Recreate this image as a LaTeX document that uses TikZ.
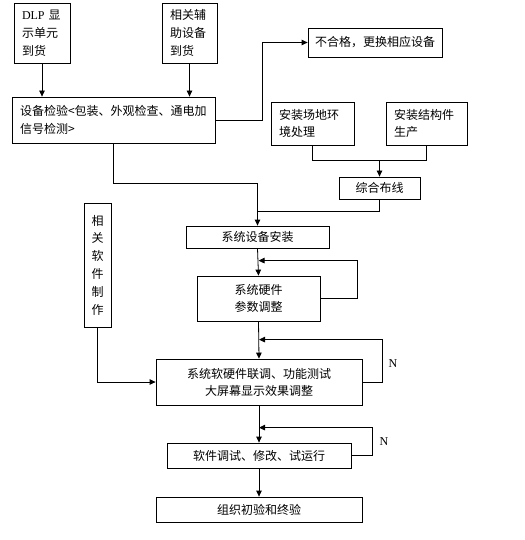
\documentclass[tikz,border=0pt]{standalone}
\usepackage{fontspec}
\usepackage{tikz}
\usetikzlibrary{arrows.meta}
\setmainfont{Liberation Serif}
\newfontfamily\cjk{Noto Sans CJK SC}

\begin{document}
\begin{tikzpicture}[x=1pt,y=-1pt,line width=0.8pt,
	>={Triangle[length=6pt,width=5.5pt]},
	box/.style={draw,inner sep=0pt,align=center,font=\cjk\fontsize{12}{17}\selectfont},
	lbox/.style={box,inner xsep=8pt,align=left}]
	\useasboundingbox (0,0) rectangle (524,540);

	%BOXES, TOP
	\node[lbox,text width=40,minimum height=60,font=\cjk\fontsize{12}{18}\selectfont] (dlp) at (42,33) {{\rmfamily DLP} 显\\示单元\\到货};
	\node[lbox,text width=39,minimum height=60,font=\cjk\fontsize{12}{18}\selectfont] (aux) at (189.5,33) {相关辅\\助设备\\到货};
	\node[lbox,text width=187,minimum height=46,font=\cjk\fontsize{12}{18}\selectfont] (check) at (113.5,120) {设备检验<包装、外观检查、通电加\\信号检测>};
	\node[box,minimum width=134,minimum height=29] (reject) at (375,42.5) {不合格，更换相应设备};
	\node[lbox,text width=67,minimum height=43] (site) at (312.5,123.5) {安装场地环\\境处理};
	\node[lbox,text width=65,minimum height=43] (struct) at (426.5,123.5) {安装结构件\\生产};
	\node[box,minimum width=81,minimum height=22] (wiring) at (379.5,188) {综合布线};

	%BOXES, MAIN LINE
	\node[box,minimum width=143,minimum height=22] (install) at (257.5,237) {系统设备安装};
	\node[box,minimum width=27,minimum height=124,font=\cjk\fontsize{12}{17.8}\selectfont] (soft) at (97.5,265) {相\\关\\软\\件\\制\\作};
	\node[box,minimum width=123,minimum height=45] (hwadj) at (258.5,298.5) {系统硬件\\参数调整};
	\node[box,minimum width=206,minimum height=46] (joint) at (259,382) {系统软硬件联调、功能测试\\大屏幕显示效果调整};
	\node[box,minimum width=184,minimum height=25] (debug) at (259,455.5) {软件调试、修改、试运行};
	\node[box,minimum width=206,minimum height=25] (accept) at (259,509.5) {组织初验和终验};
	\node[font=\fontsize{12}{14}\selectfont] (n1) at (393,364) {N};
	\node[font=\fontsize{12}{14}\selectfont] (n2) at (384,442) {N};

	%CONNECTORS
	\draw[->] (dlp.south) -- (dlp.south |- check.north);
	\draw[->] (aux.south) -- (aux.south |- check.north);
	\draw[->] (check.east) -- ++(47,0) |- (reject.west);
	\draw[->] (check.south) -- ++(0,40) -| (install.north);
	\draw (site.south) -- ++(0,15) coordinate (sj) -| (struct.south);
	\draw[->] (wiring.north |- sj) -- (wiring.north);
	\draw (wiring.south) |- ([yshift=14pt]install.north);
	\draw[->] (install.south) -- (hwadj.north);
	\draw[->] (hwadj.east) -- ++(37,0) |- ([yshift=15pt]hwadj.north);	%loop, hardware
	\draw[->] (hwadj.south) -- (joint.north);
	\draw[->] (soft.south) |- (joint.west);
	\draw[->] (joint.east) -- ++(20,0) |- ([yshift=19pt]joint.north);	%loop, N
	\draw[->] (joint.south) -- (debug.north);
	\draw[->] (debug.east) -- ++(21,0) |- ([yshift=15pt]debug.north);	%loop, N
	\draw[->] (debug.south) -- (accept.north);
\end{tikzpicture}
\end{document}
